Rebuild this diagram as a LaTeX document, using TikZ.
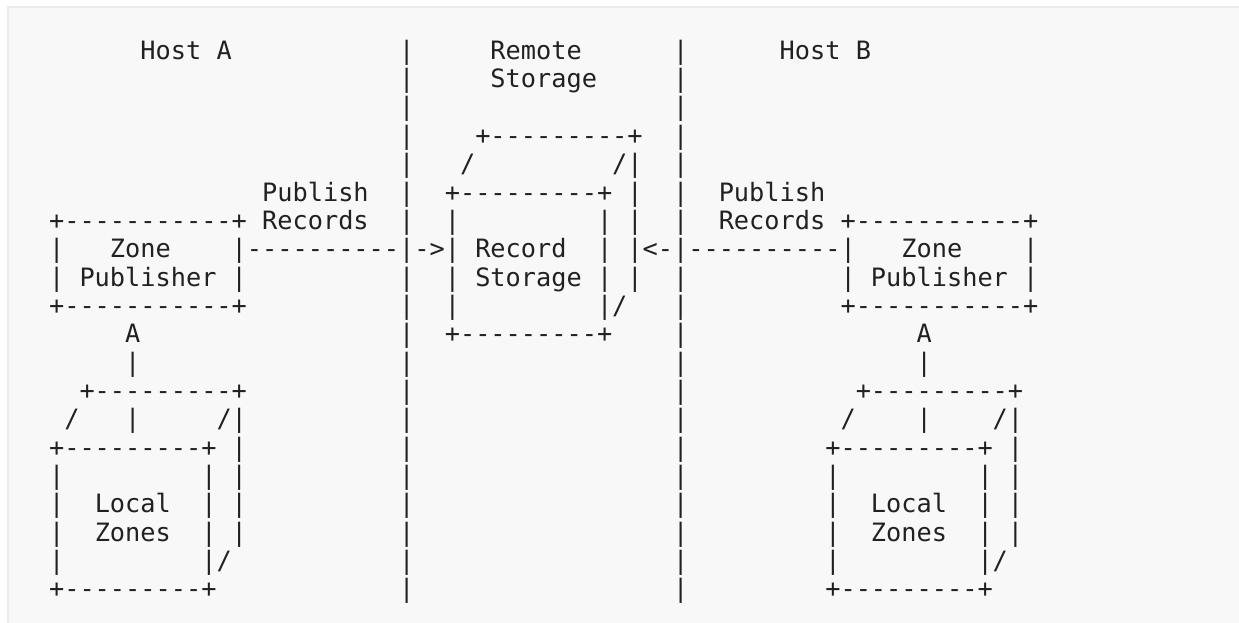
\documentclass[tikz,border=0pt]{standalone}
\usepackage{fontspec}
\setmonofont{DejaVu Sans Mono}
\definecolor{bgc}{HTML}{F8F8F8}
\definecolor{bdc}{HTML}{EBEBEB}
\definecolor{txc}{HTML}{212121}
\newcounter{frag}
\tikzset{asc/.style={anchor=base west,inner sep=0pt,outer sep=0pt,text=txc,
  font=\ttfamily\fontsize{25.28}{30}\selectfont}}
\newcommand\at[3]{\stepcounter{frag}\node[asc] (f\arabic{frag}) at ({49.09+15.22*#1},{59.3+28.35*(#2-1)}) {#3};}
\begin{document}
\begin{tikzpicture}[x=1pt,y=-1pt]
\useasboundingbox (0,0) rectangle (1239,623);
\draw[bdc,line width=2pt,fill=bgc] (8,7) rectangle (1250,640);
% row 1
\at{6}{1}{Host A}\at{23}{1}{|}\at{29}{1}{Remote}\at{41}{1}{|}\at{48}{1}{Host B}
% row 2
\at{23}{2}{|}\at{29}{2}{Storage}\at{41}{2}{|}
% row 3
\at{23}{3}{|}\at{41}{3}{|}
% row 4
\at{23}{4}{|}\at{28}{4}{+---------+}\at{41}{4}{|}
% row 5
\at{23}{5}{|}\at{27}{5}{/}\at{37}{5}{/|}\at{41}{5}{|}
% row 6
\at{14}{6}{Publish}\at{23}{6}{|}\at{26}{6}{+---------+}\at{38}{6}{|}\at{41}{6}{|}\at{44}{6}{Publish}
% row 7
\at{0}{7}{+-----------+}\at{14}{7}{Records}\at{23}{7}{|}\at{26}{7}{|}\at{36}{7}{|}\at{38}{7}{|}\at{41}{7}{|}\at{44}{7}{Records}\at{52}{7}{+-----------+}
% row 8
\at{0}{8}{|}\at{4}{8}{Zone}\at{12}{8}{|----------|->|}\at{28}{8}{Record}\at{36}{8}{|}\at{38}{8}{|<-|----------|}\at{56}{8}{Zone}\at{64}{8}{|}
% row 9
\at{0}{9}{|}\at{2}{9}{Publisher}\at{12}{9}{|}\at{23}{9}{|}\at{26}{9}{|}\at{28}{9}{Storage}\at{36}{9}{|}\at{38}{9}{|}\at{41}{9}{|}\at{52}{9}{|}\at{54}{9}{Publisher}\at{64}{9}{|}
% row 10
\at{0}{10}{+-----------+}\at{23}{10}{|}\at{26}{10}{|}\at{36}{10}{|/}\at{41}{10}{|}\at{52}{10}{+-----------+}
% row 11
\at{5}{11}{A}\at{23}{11}{|}\at{26}{11}{+---------+}\at{41}{11}{|}\at{57}{11}{A}
% row 12
\at{5}{12}{|}\at{23}{12}{|}\at{41}{12}{|}\at{57}{12}{|}
% row 13
\at{2}{13}{+---------+}\at{23}{13}{|}\at{41}{13}{|}\at{53}{13}{+---------+}
% row 14
\at{1}{14}{/}\at{5}{14}{|}\at{11}{14}{/|}\at{23}{14}{|}\at{41}{14}{|}\at{52}{14}{/}\at{57}{14}{|}\at{62}{14}{/|}
% row 15
\at{0}{15}{+---------+}\at{12}{15}{|}\at{23}{15}{|}\at{41}{15}{|}\at{51}{15}{+---------+}\at{63}{15}{|}
% row 16
\at{0}{16}{|}\at{10}{16}{|}\at{12}{16}{|}\at{23}{16}{|}\at{41}{16}{|}\at{51}{16}{|}\at{61}{16}{|}\at{63}{16}{|}
% row 17
\at{0}{17}{|}\at{3}{17}{Local}\at{10}{17}{|}\at{12}{17}{|}\at{23}{17}{|}\at{41}{17}{|}\at{51}{17}{|}\at{54}{17}{Local}\at{61}{17}{|}\at{63}{17}{|}
% row 18
\at{0}{18}{|}\at{3}{18}{Zones}\at{10}{18}{|}\at{12}{18}{|}\at{23}{18}{|}\at{41}{18}{|}\at{51}{18}{|}\at{54}{18}{Zones}\at{61}{18}{|}\at{63}{18}{|}
% row 19
\at{0}{19}{|}\at{10}{19}{|/}\at{23}{19}{|}\at{41}{19}{|}\at{51}{19}{|}\at{61}{19}{|/}
% row 20
\at{0}{20}{+---------+}\at{23}{20}{|}\at{41}{20}{|}\at{51}{20}{+---------+}
\end{tikzpicture}
\end{document}
